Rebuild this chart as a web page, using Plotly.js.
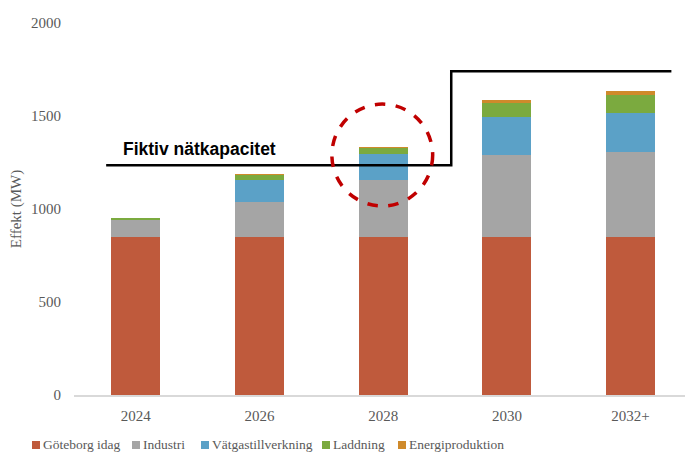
<!DOCTYPE html>
<html>
<head>
<meta charset="utf-8">
<script src="https://cdn.plot.ly/plotly-3.0.1.min.js"></script>
<style>html,body{margin:0;padding:0;background:#fff;}#chart{width:686px;height:455px;}</style>
</head>
<body>
<div id="chart"></div>
<script>
// Data
const years = ['2024', '2026', '2028', '2030', '2032+'];
const seriesNames = ['Göteborg idag', 'Industri', 'Vätgastillverkning', 'Laddning', 'Energiproduktion'];
const goteborg = [850, 850, 850, 850, 850];
const industri = [92, 190, 306, 439, 456];
const vatgas = [0, 116, 138, 206, 208];
const laddning = [7, 25, 36, 77, 99];
const energi = [0, 5, 5, 14, 21];
const capacityX = [-0.24, 2.55, 2.55, 4.33];
const capacityY = [1235, 1235, 1740, 1740];
const capacityLabel = 'Fiktiv nätkapacitet';

const colors = ['#BF5A3C', '#A5A5A5', '#5BA1C7', '#7BAA3F', '#CF8A2B'];
const seriesValues = [goteborg, industri, vatgas, laddning, energi];
const xPos = years.map((_, i) => i);
const serif = '"Liberation Serif", "DejaVu Serif", serif';
const sans = '"Liberation Sans", Arial, sans-serif';

const traces = seriesValues.map((vals, k) => ({
  type: 'bar', name: seriesNames[k], x: xPos, y: vals,
  marker: {color: colors[k]}, hoverinfo: 'y+name', showlegend: false
}));
traces.push({type: 'scatter', mode: 'lines', x: capacityX, y: capacityY,
  line: {color: '#000', width: 2.5}, showlegend: false, hoverinfo: 'skip'});

const W = 686, H = 455, ML = 74, MR = 1, MT = 23, MB = 60;
const plotW = W - ML - MR, plotH = H - MT - MB;
const px2paperX = p => (p - ML) / plotW;
const px2paperY = p => (H - MB - p) / plotH;

// Custom legend (Excel-style: small square right before text)
const legendMarkerX = [36, 136, 205, 326, 402];
const legendY = 445;
const annotations = [{
  text: '<b>' + capacityLabel + '</b>', x: px2paperX(121), xref: 'paper', y: 1325, yref: 'y',
  xanchor: 'left', yanchor: 'middle', showarrow: false,
  font: {family: sans, size: 17.5, color: '#000'}
}];
const shapes = [{
  type: 'circle', xref: 'x', yref: 'y', x0: 1.585, x1: 2.40, y0: 1016, y1: 1564,
  line: {color: '#C00000', width: 3.5, dash: 'dash'}
}];
seriesNames.forEach((n, k) => {
  shapes.push({type: 'rect', xref: 'paper', yref: 'paper',
    xsizemode: 'pixel', ysizemode: 'pixel',
    xanchor: px2paperX(legendMarkerX[k]), yanchor: px2paperY(legendY),
    x0: -4, x1: 4, y0: -4, y1: 4, fillcolor: colors[k], line: {width: 0}});
  annotations.push({text: n, xref: 'paper', yref: 'paper',
    x: px2paperX(legendMarkerX[k] + 5), y: px2paperY(legendY),
    xanchor: 'left', yanchor: 'middle', showarrow: false,
    font: {family: serif, size: 13.5, color: '#595959'}});
});

const layout = {
  width: W, height: H,
  margin: {l: ML, r: MR, t: MT, b: MB},
  barmode: 'stack',
  bargap: 0.604,
  showlegend: false,
  paper_bgcolor: '#fff', plot_bgcolor: '#fff',
  xaxis: {
    range: [-0.5, 4.44], tickvals: xPos, ticktext: years,
    showgrid: false, zeroline: false, showline: true, linecolor: '#D9D9D9', linewidth: 1.5,
    ticks: '', tickfont: {family: serif, size: 15, color: '#595959'}, ticklabelstandoff: 6
  },
  yaxis: {
    range: [0, 2000], tickvals: [0, 500, 1000, 1500, 2000],
    showgrid: false, zeroline: false, showline: false, ticks: '',
    tickfont: {family: serif, size: 15, color: '#595959'}, ticklabelstandoff: 12,
    title: {text: 'Effekt (MW)', font: {family: serif, size: 15, color: '#595959'}, standoff: 5}
  },
  annotations: annotations,
  shapes: shapes
};

Plotly.newPlot('chart', traces, layout, {displayModeBar: false, staticPlot: true});
</script>
</body>
</html>
